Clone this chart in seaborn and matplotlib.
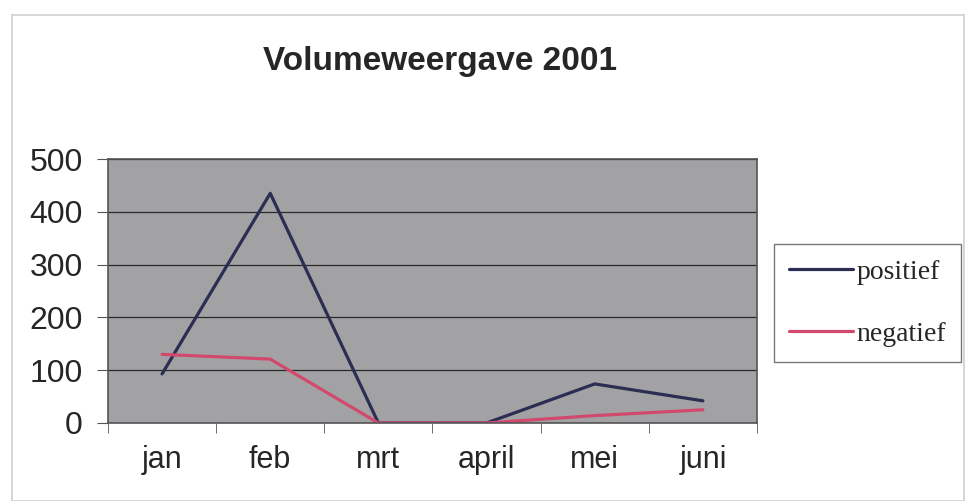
import numpy as np
import pandas as pd
import matplotlib
matplotlib.use("Agg")
import matplotlib.pyplot as plt
import seaborn as sns
from matplotlib.patches import Rectangle

months = ["jan", "feb", "mrt", "april", "mei", "juni"]
positief = [93, 435, 0, 0, 74, 42]
negatief = [130, 121, 0, 0, 14, 25]
series = ["positief", "negatief"]
colors = {"positief": "#2b2d52", "negatief": "#d2496e"}

df = pd.DataFrame({
    "maand": months * 2,
    "waarde": positief + negatief,
    "reeks": ["positief"] * len(months) + ["negatief"] * len(months),
})
df["pos"] = np.tile(np.arange(len(months)), 2)

sns.set_style("white")
plt.rcParams['font.family'] = ['Liberation Sans', 'DejaVu Sans']

fig = plt.figure(figsize=(9.66, 5.01), dpi=100)
ax = fig.add_axes([0.1118, 0.1557, 0.6718, 0.5269])

# outer chart frame
fig.patches.append(Rectangle((0.012, 0.0), 0.986, 0.97, transform=fig.transFigure,
                             fill=False, edgecolor="#cfcfcf", linewidth=1.2))

sns.lineplot(data=df, x="pos", y="waarde", hue="reeks", hue_order=series,
             palette=colors, linewidth=2.3, sort=False, ax=ax, legend=False)

ax.set_facecolor("#a2a2a4")
ax.set_xlim(-0.5, len(months) - 0.5)
ax.set_ylim(0, 500)
ax.set_yticks(range(0, 501, 100))
ax.yaxis.grid(True, color="#2a2a2a", linewidth=0.9)
ax.set_axisbelow(True)

ax.set_xticks(range(len(months)))
ax.set_xticklabels(months, fontsize=22)
ax.set_xticks(np.arange(-0.5, len(months)), minor=True)
ax.tick_params(axis="x", which="major", length=0, pad=16)
ax.tick_params(axis="x", which="minor", length=7, direction="out", color="#555555")
ax.tick_params(axis="y", length=8, direction="out", color="#555555", labelsize=23, pad=10)
ax.yaxis.set_ticks_position("left")
ax.xaxis.set_ticks_position("bottom")
for s in ax.spines.values():
    s.set_color("#555555")
    s.set_linewidth(1.2)
ax.set_xlabel("")
ax.set_ylabel("")

fig.text(0.455, 0.878, "Volumeweergave 2001", ha="center", va="center",
         fontsize=24, fontweight="bold")

handles = [plt.Line2D([], [], color=colors[s], linewidth=2.3) for s in series]
leg = fig.legend(handles, series, loc="upper left", bbox_to_anchor=(0.801, 0.512),
                 prop={"family": "Liberation Serif", "size": 20},
                 frameon=True, fancybox=False, handlelength=2.3, handletextpad=0.12,
                 labelspacing=1.3, borderpad=0.55, borderaxespad=0)
leg.get_frame().set_edgecolor("#555555")
leg.get_frame().set_linewidth(1.0)

fig.savefig("out.png", dpi=100)
